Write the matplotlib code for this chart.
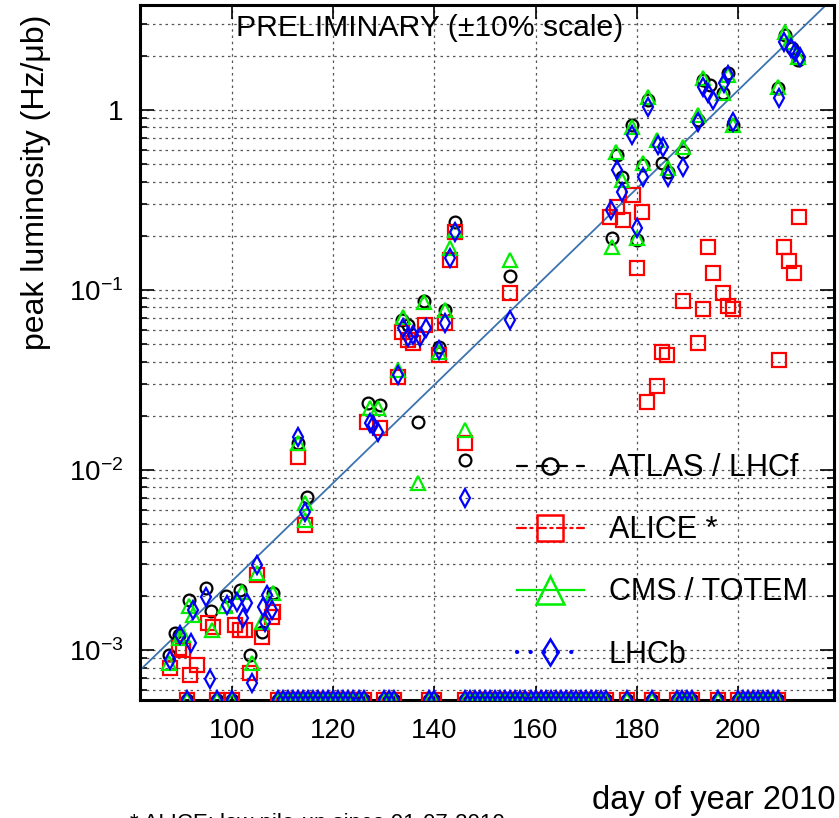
import math
import matplotlib
matplotlib.use("Agg")
import matplotlib.pyplot as plt
from matplotlib.lines import Line2D
from matplotlib.ticker import FixedLocator, FuncFormatter, LogLocator, NullFormatter

plt.rcParams['font.family'] = ['Liberation Sans', 'DejaVu Sans']
plt.rcParams['mathtext.default'] = 'regular'

# peak luminosity per fill, Hz/ub, vs day of year 2010
atlas_day = [87.5, 88.7, 89.5, 91.5, 94.9, 95.8, 98.8, 101.6, 103.6, 105.9, 108.1,
             113.0, 114.8, 126.9, 129.2, 133.6, 134.8, 136.8, 137.9, 140.9, 142.1,
             144.1, 146.0, 154.9, 175.1, 176.1, 177.1, 179.1, 180.0, 181.2, 182.2,
             185.0, 186.2, 189.1, 192.1, 193.1, 194.5, 197.0, 198.0, 199.0, 207.9,
             209.3, 210.7, 211.9]
atlas_lumi = [0.00094, 0.00124, 0.00121, 0.00190, 0.00221, 0.00165, 0.00200, 0.00215,
              0.00094, 0.00126, 0.00207, 0.0141, 0.00708, 0.0235, 0.0230, 0.0681,
              0.0639, 0.0185, 0.0869, 0.0482, 0.0774, 0.239, 0.0114, 0.119, 0.195,
              0.562, 0.425, 0.825, 0.190, 0.495, 1.14, 0.508, 0.453, 0.585, 0.88,
              1.47, 1.38, 1.24, 1.61, 0.825, 1.33, 2.61, 2.21, 1.90]

alice_day = [87.7, 89.5, 90.3, 91.7, 93.1, 95.3, 96.2, 100.6, 101.6, 102.6, 103.6,
             104.9, 105.9, 107.9, 108.1, 113.0, 114.4, 126.7, 129.2, 132.8, 133.6,
             134.8, 135.8, 138.1, 140.9, 142.1, 143.1, 144.1, 146.0, 154.9, 174.7,
             176.1, 177.3, 179.2, 180.0, 181.0, 182.0, 184.0, 184.9, 186.0, 189.1,
             192.1, 193.1, 194.1, 195.1, 197.0, 198.0, 199.0, 208.1, 209.1, 210.1,
             211.1, 212.1]
alice_lumi = [0.00079, 0.00103, 0.00100, 0.00073, 0.00083, 0.00141, 0.00134, 0.00138,
              0.00129, 0.00129, 0.00075, 0.00261, 0.00118, 0.00153, 0.00163, 0.0118,
              0.00495, 0.0185, 0.0171, 0.0329, 0.0585, 0.0528, 0.0510, 0.0639, 0.0435,
              0.0652, 0.147, 0.210, 0.0141, 0.0968, 0.255, 0.289, 0.245, 0.335, 0.133,
              0.271, 0.0240, 0.0293, 0.0450, 0.0435, 0.0869, 0.0510, 0.0784, 0.173,
              0.124, 0.0968, 0.0815, 0.0784, 0.0408, 0.173, 0.145, 0.124, 0.255]

cms_day = [87.5, 89.5, 90.3, 91.5, 92.3, 96.0, 98.6, 102.0, 104.0, 104.9, 105.9,
           108.1, 113.0, 114.4, 114.4, 127.3, 128.9, 132.8, 133.8, 136.8, 137.9,
           140.9, 142.1, 143.1, 144.1, 146.0, 154.9, 175.1, 175.9, 177.1, 179.1,
           180.0, 181.2, 182.2, 184.0, 186.2, 189.1, 192.1, 193.1, 197.0, 198.0,
           199.0, 207.9, 209.3, 210.1, 211.9]
cms_lumi = [0.00085, 0.00117, 0.00121, 0.00175, 0.00157, 0.00129, 0.00175, 0.00210,
            0.00085, 0.00268, 0.00143, 0.00207, 0.0141, 0.00656, 0.00528, 0.0222,
            0.0222, 0.0359, 0.0708, 0.00847, 0.0858, 0.0450, 0.0774, 0.171, 0.215,
            0.0167, 0.147, 0.173, 0.585, 0.408, 0.805, 0.195, 0.508, 1.18, 0.681,
            0.476, 0.623, 0.938, 1.51, 1.24, 1.56, 0.825, 1.34, 2.71, 2.40, 1.97]

lhcb_day = [87.7, 89.7, 91.9, 92.3, 94.9, 95.7, 99.0, 101.0, 102.2, 103.0, 104.0,
            104.9, 106.1, 106.5, 106.9, 107.9, 113.0, 114.4, 127.3, 127.9, 128.9,
            132.8, 133.8, 134.8, 135.8, 137.2, 138.3, 140.9, 142.1, 143.1, 144.1,
            146.0, 154.9, 174.9, 176.1, 177.1, 179.1, 180.0, 181.2, 182.2, 184.2,
            185.2, 186.2, 189.1, 192.1, 193.1, 194.1, 195.1, 197.2, 198.0, 199.0,
            208.1, 209.1, 210.5, 211.3, 212.3]
lhcb_lumi = [0.00088, 0.00121, 0.00109, 0.00167, 0.00197, 0.00069, 0.00178, 0.00185,
             0.00151, 0.00182, 0.00066, 0.00297, 0.00173, 0.00143, 0.00202, 0.00167,
             0.0153, 0.00585, 0.0182, 0.0178, 0.0163, 0.0337, 0.0615, 0.0545, 0.0562,
             0.0545, 0.0615, 0.0464, 0.0652, 0.151, 0.210, 0.0070, 0.0681, 0.278,
             0.464, 0.350, 0.726, 0.221, 0.425, 1.04, 0.639, 0.623, 0.425, 0.482,
             0.858, 1.34, 1.24, 1.14, 1.41, 1.56, 0.858, 1.17, 2.39, 2.20, 2.10, 1.97]

# days with no stable beam: drawn on the lower edge
zero_days = [91, 97, 100, 109, 110, 111, 112, 113, 114, 115, 116, 117, 118, 119, 120,
             121, 122, 123, 124, 125, 126, 130, 131, 132, 139, 140, 146, 147, 148, 149,
             150, 151, 152, 153, 154, 155, 156, 157, 158, 159, 160, 161, 162, 163, 164,
             165, 166, 167, 168, 169, 170, 171, 172, 173, 174, 178, 183, 188, 189, 190,
             191, 196, 200, 201, 202, 203, 204, 205, 206, 207, 208]

# exponential trend line
fit_days = [80, 220]
fit_lumi = [6.9e-4, 4.5]

xlim = (81.8, 219.0)
ylim = (5.28e-4, 3.83)

# name, x, y, colour, marker, size in plot, size in legend, legend line style
series = [
    ("ATLAS / LHCf", atlas_day, atlas_lumi, 'black', 'o', 8.5, 11.5, (0, (4.5, 4.5))),
    ("ALICE *", alice_day, alice_lumi, 'red', 's', 9.5, 19, (0, (4, 2, 1, 2))),
    ("CMS / TOTEM", cms_day, cms_lumi, '#00ee00', '^', 9.5, 20, '-'),
    ("LHCb", lhcb_day, lhcb_lumi, 'blue', 'd', 9.0, 13.7, (0, (0.05, 3.2))),
]

fig = plt.figure(figsize=(8.39, 8.18), dpi=100)
ax = fig.add_axes([140 / 839, 118 / 818, 694 / 839, 695 / 818])

ax.set_yscale('log')
ax.set_xlim(*xlim)
ax.set_ylim(*ylim)

ax.plot(fit_days, fit_lumi, color='#3a73b0', lw=1.3, zorder=2)

handles = []
for name, d, l, c, m, ms, ms_leg, ls in series:
    ax.plot(d, l, ls='none', marker=m, ms=ms, mfc='none', mec=c, mew=1.6, zorder=3)
    ax.plot(zero_days, [ylim[0]] * len(zero_days), ls='none', marker=m, ms=ms,
            mfc='none', mec=c, mew=1.6, zorder=3, clip_on=True)
    lw = 3.0 if m == 'd' else 1.6
    handles.append(Line2D([], [], color=c, ls=ls, lw=lw, marker=m, ms=ms_leg, mfc='none',
                          mec=c, mew=1.8, dash_capstyle='round', label=name))

# grid and ticks
ax.yaxis.set_major_locator(FixedLocator([1e-3, 1e-2, 1e-1, 1]))
ax.yaxis.set_minor_locator(LogLocator(base=10, subs=range(2, 10)))
ax.yaxis.set_minor_formatter(NullFormatter())


def ylab(v, pos):
    if abs(v - 1) < 1e-9:
        return '1'
    return r'$10^{%d}$' % round(math.log10(v))


ax.yaxis.set_major_formatter(FuncFormatter(ylab))
ax.set_xticks([100, 120, 140, 160, 180, 200])

grid_kw = dict(color='#555555', lw=0.9, ls=(0, (2, 3)))
ax.grid(which='major', axis='x', **grid_kw)
ax.grid(which='both', axis='y', **grid_kw)

ax.tick_params(which='both', direction='in', top=True, right=True, labelsize=20, width=1.2)
ax.tick_params(which='major', length=10)
ax.tick_params(which='minor', length=5)
ax.tick_params(axis='x', pad=13)
ax.tick_params(axis='y', pad=12)
for sp in ax.spines.values():
    sp.set_linewidth(2.2)

ax.set_ylabel(u'peak luminosity (Hz/\u03bcb)', fontsize=23)
ax.yaxis.set_label_coords(-0.128, 0.745)

ax.text(0.138, 0.967, u'PRELIMINARY (\u00b110% scale)', transform=ax.transAxes,
        fontsize=21.7, va='center', ha='left')

leg = ax.legend(handles=handles, loc='upper left', bbox_to_anchor=(0.543, 0.355),
                frameon=False, fontsize=22, handlelength=2.2, handletextpad=0.8,
                labelspacing=1.05, borderpad=0, borderaxespad=0, markerscale=1.0)

fig.text(835 / 839, 1 - 800 / 818, 'day of year 2010', fontsize=23.5, ha='right', va='center')
fig.text(130 / 839, 1 - 813 / 818, '* ALICE: low pile-up since 01-07-2010', fontsize=16,
         ha='left', va='top')

fig.savefig('out.png', dpi=100)
plt.close(fig)
